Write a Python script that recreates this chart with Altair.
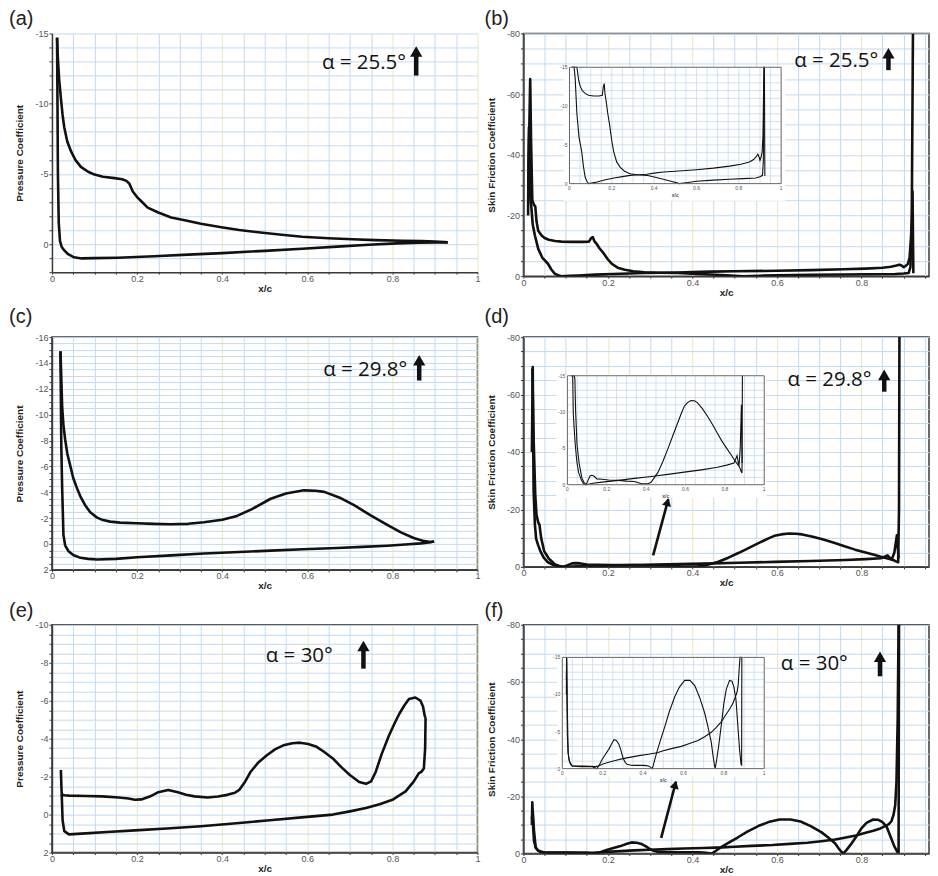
import math
import altair as alt
import pandas as pd

# ---------------- (a) Pressure coefficient, alpha = 25.5 deg ----------------
A_UP_X = [0.012, 0.014, 0.017, 0.021, 0.025, 0.029, 0.036, 0.045, 0.055, 0.068, 0.085, 0.1, 0.12, 0.147, 0.165,
          0.175, 0.182, 0.19, 0.2, 0.21, 0.225, 0.25, 0.28, 0.312, 0.35, 0.398, 0.44, 0.49, 0.54, 0.588, 0.65,
          0.706, 0.76, 0.824, 0.87, 0.9, 0.922, 0.93]
A_UP_Y = [-14.7, -13.2, -11.7, -10.4, -9.2, -8.3, -7.3, -6.6, -6.0, -5.5, -5.15, -4.95, -4.8, -4.7, -4.62,
          -4.5, -4.3, -3.75, -3.35, -3.05, -2.6, -2.25, -1.9, -1.7, -1.45, -1.2, -1.0, -0.82, -0.66, -0.52, -0.42,
          -0.34, -0.28, -0.24, -0.21, -0.19, -0.15, -0.12]
A_LO_X = [0.012, 0.013, 0.014, 0.016, 0.019, 0.023, 0.029, 0.038, 0.052, 0.07, 0.1, 0.155, 0.24, 0.32, 0.4,
          0.5, 0.588, 0.67, 0.745, 0.81, 0.863, 0.9, 0.93]
A_LO_Y = [-14.7, -10.0, -5.0, -1.5, -0.2, 0.2, 0.45, 0.72, 0.94, 1.02, 1.0, 0.97, 0.87, 0.75, 0.64,
          0.48, 0.33, 0.18, 0.05, -0.05, -0.1, -0.12, -0.12]

# ---------------- (b) Skin friction coefficient, alpha = 25.5 deg ----------------
B_1_X = [0.012, 0.014, 0.016, 0.018, 0.021, 0.025, 0.028, 0.031, 0.035, 0.043, 0.05, 0.06, 0.075, 0.09, 0.114,
         0.14, 0.155, 0.16, 0.164, 0.168, 0.173, 0.18, 0.19, 0.2, 0.209, 0.223, 0.24, 0.26, 0.286, 0.32,
         0.365, 0.4, 0.443, 0.48, 0.52, 0.56, 0.6, 0.68, 0.757, 0.82, 0.88, 0.9, 0.912, 0.916, 0.919, 0.922]
B_1_Y = [-30, -50, -65, -45, -25, -23.5, -23, -18, -15, -13.4, -12.6, -12.0, -11.6, -11.4, -11.3,
         -11.3, -11.4, -12.5, -12.9, -11.5, -10.7, -9.2, -7.5, -5.5, -4.1, -2.8, -2.1, -1.6, -1.28, -1.15,
         -1.07, -0.85, -0.56, -0.3, 0.0, -0.15, -0.3, -0.45, -0.56, -0.65, -0.73, -0.9, -1.07, -3, -15, -80]
B_2_X = [0.011, 0.012, 0.013, 0.015, 0.018, 0.022, 0.027, 0.035, 0.045, 0.058, 0.066, 0.074, 0.082, 0.09, 0.11,
         0.13, 0.17, 0.21, 0.25, 0.286, 0.33, 0.365, 0.4, 0.443, 0.5, 0.6, 0.68, 0.757, 0.81, 0.85,
         0.87, 0.883, 0.89, 0.895, 0.9, 0.905, 0.91, 0.914, 0.917, 0.92, 0.921, 0.923]
B_2_Y = [-20, -40, -49, -35, -24, -17, -13.5, -9, -6, -4.1, -2.2, -0.85, -0.3, 0.0, -0.1,
         -0.2, -0.5, -0.73, -0.9, -1.07, -1.15, -1.2, -1.35, -1.5, -1.6, -1.8, -2.0, -2.26, -2.5, -2.78,
         -3.1, -3.5, -3.8, -3.5, -3.0, -3.4, -4.06, -6, -12, -20, -28, -1]

# ---------------- (c) Pressure coefficient, alpha = 29.8 deg ----------------
C_UP_X = [0.02, 0.022, 0.024, 0.027, 0.031, 0.036, 0.043, 0.05, 0.059, 0.068, 0.078, 0.09, 0.106, 0.12, 0.137,
          0.16, 0.2, 0.24, 0.278, 0.32, 0.357, 0.4, 0.435, 0.47, 0.514, 0.55, 0.592, 0.62, 0.64, 0.675,
          0.71, 0.75, 0.788, 0.82, 0.85, 0.875, 0.89, 0.898]
C_UP_Y = [-14.9, -12.8, -10.6, -9.2, -8.1, -7.0, -6.06, -5.1, -4.3, -3.6, -3.0, -2.45, -2.04, -1.85, -1.73,
          -1.65, -1.6, -1.56, -1.53, -1.56, -1.68, -1.88, -2.17, -2.7, -3.5, -3.9, -4.15, -4.12, -4.03, -3.6,
          -3.0, -2.2, -1.48, -0.9, -0.46, -0.22, -0.15, -0.2]
C_LO_X = [0.02, 0.021, 0.022, 0.024, 0.027, 0.031, 0.039, 0.05, 0.067, 0.085, 0.106, 0.15, 0.2, 0.28, 0.357,
          0.44, 0.514, 0.59, 0.67, 0.73, 0.788, 0.83, 0.867, 0.885, 0.898]
C_LO_Y = [-14.9, -11.0, -7.5, -4.3, -0.7, 0.1, 0.56, 0.85, 1.07, 1.15, 1.2, 1.15, 1.02, 0.88, 0.74,
          0.62, 0.51, 0.41, 0.31, 0.22, 0.13, 0.04, -0.05, -0.12, -0.2]

# ---------------- (d) Skin friction coefficient, alpha = 29.8 deg ----------------
D_1_X = [0.02, 0.022, 0.024, 0.027, 0.03, 0.035, 0.04, 0.048, 0.057, 0.07, 0.082, 0.095, 0.105, 0.115, 0.124,
         0.135, 0.15, 0.175, 0.21, 0.26, 0.3, 0.34, 0.376, 0.41, 0.426, 0.44, 0.46, 0.485, 0.51, 0.535,
         0.56, 0.58, 0.594, 0.61, 0.628, 0.645, 0.66, 0.685, 0.71, 0.735, 0.76, 0.785, 0.812, 0.83, 0.846,
         0.862, 0.875, 0.882, 0.887, 0.889, 0.89]
D_1_Y = [-40, -69.6, -27, -15, -9.8, -7.5, -5.5, -3.2, -1.7, -0.7, -0.14, 0.0, -0.6, -1.2, -1.3,
         -1.2, -0.8, -0.75, -0.65, -0.6, -0.5, -0.45, -0.14, -0.14, -0.36, -0.9, -1.7, -3.2, -4.9, -6.7,
         -8.5, -9.9, -10.8, -11.3, -11.6, -11.55, -11.3, -10.5, -9.5, -8.4, -7.2, -6.0, -4.9, -4.2, -3.5,
         -2.9, -2.4, -1.9, -1.6, -20, -80]
D_2_X = [0.021, 0.024, 0.028, 0.031, 0.035, 0.038, 0.042, 0.049, 0.06, 0.074, 0.085, 0.095, 0.13, 0.175, 0.26,
         0.34, 0.426, 0.51, 0.594, 0.68, 0.762, 0.81, 0.846, 0.856, 0.862, 0.867, 0.872, 0.878, 0.884, 0.888]
D_2_Y = [-69, -45, -25, -18, -15.5, -14.6, -10, -5.5, -2.9, -0.9, -0.3, 0.0, -0.2, -0.36, -0.6,
         -0.87, -1.14, -1.43, -1.73, -2.05, -2.4, -2.7, -3.0, -3.6, -4.0, -3.2, -2.6, -5, -11, -3]

# ---------------- (e) Pressure coefficient, alpha = 30 deg ----------------
E_UP_X = [0.021, 0.022, 0.023, 0.03, 0.04, 0.08, 0.118, 0.157, 0.18, 0.195, 0.21, 0.23, 0.25, 0.273, 0.296,
          0.315, 0.335, 0.366, 0.39, 0.412, 0.43, 0.44, 0.453, 0.467, 0.485, 0.505, 0.525, 0.544, 0.565, 0.583,
          0.602, 0.622, 0.64, 0.66, 0.68, 0.7, 0.722, 0.738, 0.75, 0.761, 0.775, 0.792, 0.805, 0.816, 0.828,
          0.839, 0.854, 0.866, 0.872, 0.876, 0.878]
E_UP_Y = [-2.35, -1.6, -1.04, -1.02, -1.0, -0.98, -0.96, -0.9, -0.85, -0.78, -0.8, -0.95, -1.18, -1.3, -1.18,
          -1.05, -0.96, -0.9, -0.95, -1.04, -1.15, -1.3, -1.7, -2.26, -2.75, -3.13, -3.45, -3.65, -3.76, -3.79,
          -3.72, -3.57, -3.3, -2.96, -2.5, -2.09, -1.72, -1.62, -1.75, -2.26, -3.2, -4.17, -4.8, -5.3, -5.75,
          -6.09, -6.17, -6.0, -5.7, -5.2, -5.1]
E_LO_X = [0.878, 0.877, 0.874, 0.868, 0.862, 0.85, 0.831, 0.8, 0.77, 0.738, 0.7, 0.66, 0.6, 0.505, 0.42,
          0.35, 0.27, 0.195, 0.13, 0.079, 0.05, 0.04, 0.029, 0.025, 0.023]
E_LO_Y = [-5.1, -3.5, -2.43, -2.25, -2.17, -1.74, -1.22, -0.78, -0.55, -0.35, -0.17, 0.0, 0.12, 0.31, 0.48,
          0.61, 0.73, 0.83, 0.92, 0.99, 1.03, 1.04, 0.87, 0.3, -1.04]

# ---------------- (f) Skin friction coefficient, alpha = 30 deg ----------------
F_1_X = [0.02, 0.021, 0.023, 0.025, 0.029, 0.033, 0.04, 0.049, 0.07, 0.098, 0.13, 0.148, 0.16, 0.172, 0.185,
         0.197, 0.213, 0.23, 0.245, 0.256, 0.268, 0.28, 0.29, 0.3, 0.31, 0.32, 0.34, 0.36, 0.38, 0.4,
         0.415, 0.426, 0.436, 0.446, 0.455, 0.467, 0.487, 0.508, 0.53, 0.557, 0.58, 0.606, 0.632, 0.656, 0.68,
         0.705, 0.72, 0.738, 0.745, 0.752, 0.757, 0.765, 0.775, 0.788, 0.8, 0.812, 0.828, 0.84, 0.85, 0.86,
         0.87, 0.878, 0.885, 0.888, 0.889]
F_1_Y = [-10, -17.9, -9, -4.4, -2.1, -1.24, -0.6, -0.36, -0.3, -0.27, -0.27, -0.27, -0.1, 0.0, -0.6,
         -1.24, -1.9, -2.6, -3.4, -3.9, -3.8, -3.3, -2.5, -1.5, -0.9, -0.58, -0.46, -0.44, -0.44, -0.44,
         -0.4, -0.36, -0.2, 0.0, -0.9, -2.13, -3.9, -5.7, -7.7, -9.7, -11.0, -11.9, -11.9, -11.2, -9.6,
         -7.5, -5.8, -3.5, -2.0, -0.7, 0.0, -1.3, -3.2, -6.0, -8.8, -10.7, -11.9, -11.8, -11.0, -9.3,
         -5.5, -2.5, -0.6, -0.5, -80]
F_2_X = [0.02, 0.022, 0.025, 0.029, 0.035, 0.049, 0.07, 0.104, 0.14, 0.164, 0.183, 0.197, 0.23, 0.262, 0.3,
         0.34, 0.38, 0.426, 0.47, 0.5, 0.54, 0.59, 0.63, 0.672, 0.705, 0.738, 0.76, 0.787, 0.808, 0.828,
         0.845, 0.856, 0.865, 0.871, 0.876, 0.88, 0.883, 0.886, 0.888]
F_2_Y = [-12, -15, -8, -2.1, -1.0, -0.36, -0.36, -0.34, -0.3, -0.27, -0.4, -0.58, -0.85, -1.1, -1.35,
         -1.55, -1.75, -1.95, -2.15, -2.4, -2.7, -3.0, -3.4, -3.8, -4.3, -4.9, -5.5, -6.3, -7.2, -8.0,
         -8.8, -9.6, -10.3, -11.3, -13.5, -17, -25, -48, -80]

# ---------------- tick labels ----------------
INSET_X_TICKS = [0, 0.2, 0.4, 0.6, 0.8, 1.0]
INSET_X_LABELS = ["0", "0.2", "0.4", "0.6", "0.8", "1"]
INSET_Y_TICKS = [-15, -10, -5, 0]
INSET_Y_LABELS = ["-15", "-10", "-5", "0"]

GRID_BLUE = "#c3daf0"
GRID_YEL = "#e9e8b8"
INK = "#111111"
AXIS_INK = "#3a3a3a"
MINUS = "\u2212"
FONT = "Liberation Sans"
ALPHA_FONT = "Open Sans"


def curves_df(curves):
    rows = []
    for name, xs, ys in curves:
        for i, (xv, yv) in enumerate(zip(xs, ys)):
            rows.append({"x": xv, "y": yv, "curve": name, "i": i})
    return pd.DataFrame(rows)


def steps(a, b, s):
    n = int(round((b - a) / s + 1e-9))
    if a + n * s > b + 1e-9:
        n -= 1
    return [round(a + k * s, 4) for k in range(n + 1)]


def make_panel(p):
    W, H = p["width"], p["height"]
    xmax = p["xmax"]
    y0, y1 = p["ydom"]
    lab = p["ylab"]
    df = curves_df(p["curves"])

    xsc = alt.Scale(domain=[0, xmax], nice=False, zero=False)
    ysc = alt.Scale(domain=[y0, y1], reverse=True, nice=False, zero=False)
    major_x = "abs(datum.value*5 - round(datum.value*5)) < 0.001"
    xaxis = alt.Axis(
        values=steps(0, xmax, 0.05), tickCount=500, format=".4~g", title="x/c",
        labelExpr=f"{major_x} ? datum.label : ''",
        grid=True,
        gridColor={"condition": {"test": f"{major_x} && datum.value > 0.01", "value": GRID_YEL},
                   "value": GRID_BLUE},
        gridWidth=1, labelOverlap=False, labelFlush=False, tickSize=2,
        labelPadding=0, titlePadding=0,
    )
    ytest = f"abs(datum.value/{lab} - round(datum.value/{lab})) < 0.001"
    yaxis = alt.Axis(
        values=steps(y0, y1, p["ystep"]), tickCount=500, format=".4~g", title=p["ytitle"],
        labelExpr=f"{ytest} ? replace(datum.label, '{MINUS}', '-') : ''",
        grid=True, gridColor=GRID_BLUE, gridWidth=1, labelOverlap=False, labelFlush=False,
        tickSize=3, labelPadding=1, titlePadding=10,
    )

    layers = []
    layers.append(
        alt.Chart(df).mark_line(color=INK, strokeWidth=2.6, clip=True, strokeJoin="round").encode(
            x=alt.X("x:Q", scale=xsc, axis=xaxis),
            y=alt.Y("y:Q", scale=ysc, axis=yaxis),
            detail="curve:N", order="i:Q",
        )
    )
    if "bg" in p:
        bx0, bx1, by0, by1 = p["bg"]
        layers.append(
            alt.Chart(pd.DataFrame({"x": [bx0], "x2": [bx1], "y": [by0], "y2": [by1]}))
            .mark_rect(color="white")
            .encode(x="x:Q", x2="x2:Q", y="y:Q", y2="y2:Q")
        )
    tx, ty = p["text"]
    layers.append(
        alt.Chart(pd.DataFrame({"x": [tx], "y": [ty], "t": [p["alpha"]]}))
        .mark_text(align="right", baseline="middle", font=ALPHA_FONT, fontSize=20.5, color=INK)
        .encode(x="x:Q", y="y:Q", text="t:N")
    )
    ax, ay_tail, ay_tip = p["arrow"]
    adf = pd.DataFrame({"x": [ax], "y": [ay_tail], "y2": [ay_tip]})
    layers.append(
        alt.Chart(adf).mark_rule(color=INK, strokeWidth=4.5, y2Offset=7).encode(x="x:Q", y="y:Q", y2="y2:Q")
    )
    layers.append(
        alt.Chart(adf).mark_point(shape="triangle-up", filled=True, size=150, color=INK, opacity=1, yOffset=5)
        .encode(x="x:Q", y="y2:Q")
    )
    if "slant" in p:
        sx, sy, sx2, sy2 = p["slant"]
        dxp = (sx2 - sx) / xmax * W
        dyp = (sy2 - sy) / (y1 - y0) * H
        ln = math.hypot(dxp, dyp)
        ang = math.degrees(math.atan2(dxp, -dyp))
        sdf = pd.DataFrame({"x": [sx], "y": [sy], "x2": [sx2], "y2": [sy2]})
        layers.append(
            alt.Chart(sdf).mark_rule(color=INK, strokeWidth=2.6)
            .encode(x="x:Q", y="y:Q", x2="x2:Q", y2="y2:Q")
        )
        layers.append(
            alt.Chart(sdf).mark_point(shape="triangle-up", filled=True, size=85, color=INK, opacity=1,
                                      angle=ang, xOffset=-dxp / ln * 3, yOffset=-dyp / ln * 3)
            .encode(x="x2:Q", y="y2:Q")
        )
    layers.append(
        alt.Chart(pd.DataFrame({"t": [p["letter"]]}))
        .mark_text(align="left", baseline="middle", font=FONT, fontSize=20, color="#222")
        .encode(x=alt.value(p["lx"]), y=alt.value(p["ly"]), text="t:N")
    )
    main = alt.layer(*layers)

    if "inset" in p:
        ix0, ix1, iyt, iyb = p["inset"]
        px0, px1 = ix0 / xmax * W, ix1 / xmax * W
        pyt = (iyt - y0) / (y1 - y0) * H
        pyb = (iyb - y0) / (y1 - y0) * H
        isx = alt.Scale(domain=[0, 1], range=[px0, px1], clamp=True, nice=False, zero=False)
        isy = alt.Scale(domain=[-15, 0], range=[pyt, pyb], clamp=True, nice=False, zero=False)

        def IX(f):
            return alt.X(f, scale=isx, axis=None)

        def IY(f):
            return alt.Y(f, scale=isy, axis=None)

        vdf = pd.DataFrame({"x": steps(0.05, 0.95, 0.05), "ya": -15, "yb": 0})
        hdf = pd.DataFrame({"y": steps(-14, -1, 1), "xa": 0, "xb": 1})
        vgrid = alt.Chart(vdf).mark_rule(color=GRID_BLUE, strokeWidth=0.8).encode(
            x=IX("x:Q"), y=IY("ya:Q"), y2="yb:Q")
        hgrid = alt.Chart(hdf).mark_rule(color=GRID_BLUE, strokeWidth=0.8).encode(
            y=IY("y:Q"), x=IX("xa:Q"), x2="xb:Q")
        ilines = alt.Chart(df).mark_line(color=INK, strokeWidth=1.1).encode(
            x=IX("x:Q"), y=IY("y:Q"), detail="curve:N", order="i:Q")
        frame = alt.Chart(pd.DataFrame({"xa": [0], "xb": [1], "ya": [-15], "yb": [0]})).mark_rect(
            fill="white", fillOpacity=0, stroke="#666", strokeWidth=1).encode(
            x=IX("xa:Q"), x2="xb:Q", y=IY("ya:Q"), y2="yb:Q")
        xl = alt.Chart(pd.DataFrame({"x": INSET_X_TICKS, "y": 0, "t": INSET_X_LABELS})).mark_text(
            fontSize=5, baseline="top", dy=2, color="#555", font=FONT).encode(
            x=IX("x:Q"), y=IY("y:Q"), text="t:N")
        xt = alt.Chart(pd.DataFrame({"x": [0.5], "y": [0], "t": ["x/c"]})).mark_text(
            fontSize=5, baseline="top", dy=9, color="#555", font=FONT, fontWeight="bold").encode(
            x=IX("x:Q"), y=IY("y:Q"), text="t:N")
        yl = alt.Chart(pd.DataFrame({"x": 0, "y": INSET_Y_TICKS, "t": INSET_Y_LABELS})).mark_text(
            fontSize=5, align="right", baseline="middle", dx=-2, color="#555", font=FONT).encode(
            x=IX("x:Q"), y=IY("y:Q"), text="t:N")
        inset = alt.layer(vgrid, hgrid, ilines, frame, xl, xt, yl)
        panel = alt.layer(main, inset).resolve_scale(x="independent", y="independent")
    else:
        panel = main

    stroke = AXIS_INK if p["frame"] else "transparent"
    return panel.properties(width=W, height=H,
                            view=alt.ViewBackground(stroke=stroke, strokeWidth=1.5))


PANELS = {
    "a": dict(letter="(a)", curves=[("upper", A_UP_X, A_UP_Y), ("lower", A_LO_X, A_LO_Y)],
              xmax=1.0, width=426, height=239, ydom=[-15, 2], ystep=1, ylab=5,
              ytitle="Pressure Coefficient", frame=False, lx=-43, ly=-14,
              alpha="α = 25.5°", text=(0.832, -12.86), arrow=(0.856, -12.0, -14.07)),
    "b": dict(letter="(b)", curves=[("c1", B_1_X, B_1_Y), ("c2", B_2_X, B_2_Y)],
              xmax=0.96, width=406, height=243, ydom=[-80, 0], ystep=5, ylab=20,
              ytitle="Skin Friction Coefficient", frame=True, lx=-39, ly=-14,
              alpha="α = 25.5°", text=(0.84, -70.8), arrow=(0.864, -67.9, -75.1),
              inset=(0.109, 0.61, -68.85, -30.5), bg=(0.095, 0.62, -68.85, -24.9)),
    "c": dict(letter="(c)", curves=[("upper", C_UP_X, C_UP_Y), ("lower", C_LO_X, C_LO_Y)],
              xmax=1.0, width=426, height=233, ydom=[-16, 2], ystep=0.5, ylab=2,
              ytitle="Pressure Coefficient", frame=True, lx=-43, ly=-20,
              alpha="α = 29.8°", text=(0.835, -13.45), arrow=(0.863, -12.64, -14.6)),
    "d": dict(letter="(d)", curves=[("c1", D_1_X, D_1_Y), ("c2", D_2_X, D_2_Y)],
              xmax=0.96, width=406, height=230, ydom=[-80, 0], ystep=5, ylab=20,
              ytitle="Skin Friction Coefficient", frame=True, lx=-39, ly=-20,
              alpha="α = 29.8°", text=(0.824, -65.2), arrow=(0.854, -61.0, -68.6),
              inset=(0.104, 0.57, -66.55, -28.6), bg=(0.078, 0.575, -66.9, -24.1),
              slant=(0.307, -4.0, 0.343, -23.6)),
    "e": dict(letter="(e)", curves=[("upper", E_UP_X, E_UP_Y), ("lower", E_LO_X, E_LO_Y)],
              xmax=1.0, width=426, height=228, ydom=[-10, 2], ystep=0.5, ylab=2,
              ytitle="Pressure Coefficient", frame=True, lx=-43, ly=-14,
              alpha="α = 30°", text=(0.66, -8.37), arrow=(0.732, -7.69, -9.15)),
    "f": dict(letter="(f)", curves=[("c1", F_1_X, F_1_Y), ("c2", F_2_X, F_2_Y)],
              xmax=0.96, width=406, height=229, ydom=[-80, 0], ystep=5, ylab=20,
              ytitle="Skin Friction Coefficient", frame=True, lx=-39, ly=-14,
              alpha="α = 30°", text=(0.768, -66.4), arrow=(0.844, -62.0, -70.6),
              inset=(0.092, 0.57, -68.6, -29.7), bg=(0.08, 0.572, -68.6, -26.9),
              slant=(0.326, -5.5, 0.361, -25.1)),
}

rows = []
for left, right in [("a", "b"), ("c", "d"), ("e", "f")]:
    rows.append(alt.hconcat(make_panel(PANELS[left]), make_panel(PANELS[right]), spacing=2))

chart = (
    alt.vconcat(*rows, spacing=8)
    .properties(padding=0, background="white")
    .configure_axis(labelFont=FONT, labelFontSize=9, labelColor="#555", titleFont=FONT, titleFontSize=10,
                    titleFontWeight="bold", titleColor="#222", domainColor=AXIS_INK, domainWidth=1.5,
                    tickColor=AXIS_INK, tickWidth=1)
    .configure_view(stroke="transparent")
)

chart.save("out.html", embed_options={"renderer": "svg", "actions": False})
